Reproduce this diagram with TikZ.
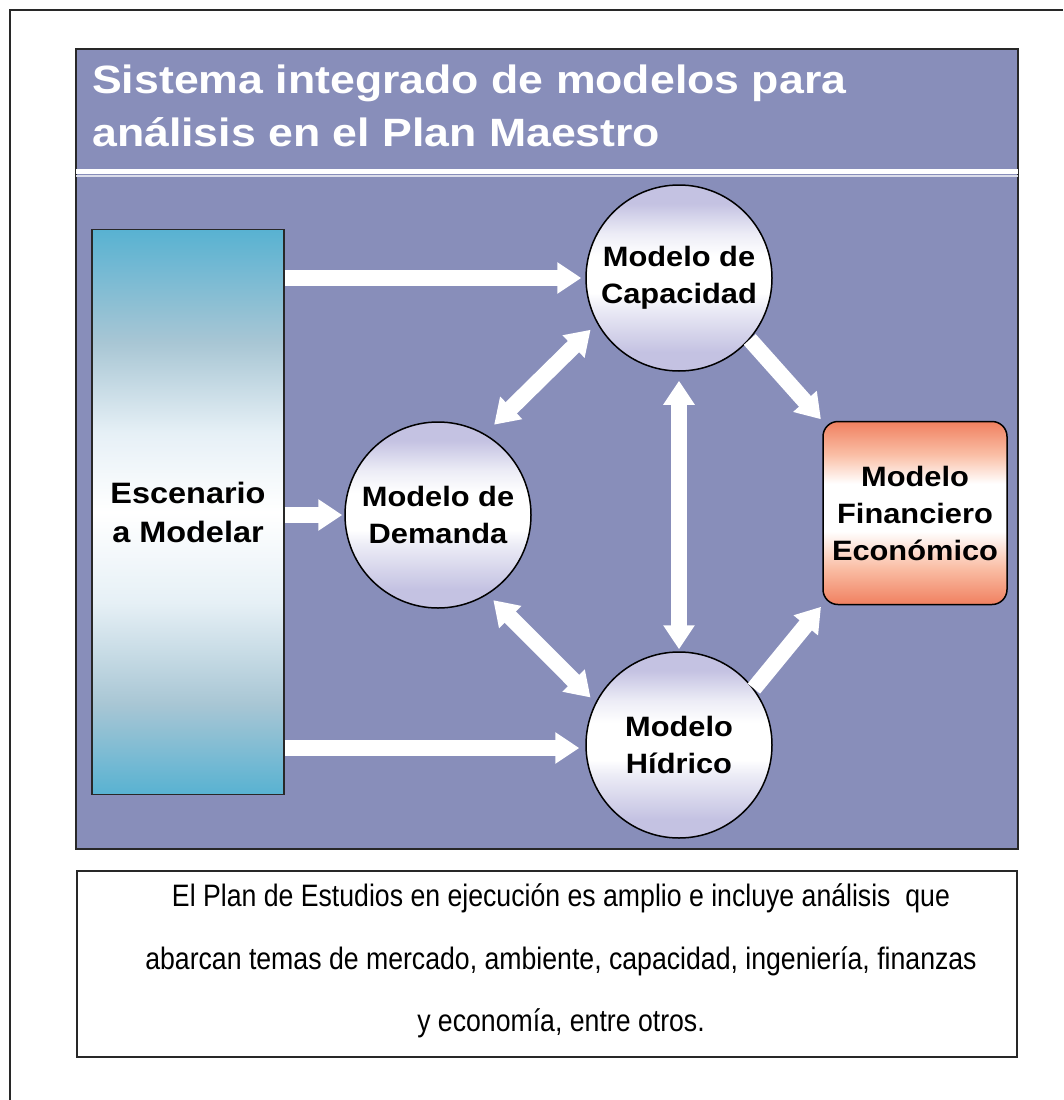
\documentclass[tikz,border=0pt]{standalone}
\usepackage{fontspec}
\setmainfont{Liberation Sans}
\newfontfamily\widefont[FakeStretch=1.1]{Liberation Sans}
\newfontfamily\titlefont[FakeStretch=1.13]{Liberation Sans}
\newfontfamily\notefont[FakeStretch=0.86]{Liberation Sans}
\usetikzlibrary{positioning,arrows.meta}

\definecolor{panelblue}{RGB}{136,142,186}
\definecolor{framegray}{RGB}{40,40,40}
\definecolor{escteal}{RGB}{88,178,210}
\definecolor{escgray}{RGB}{168,198,212}
\definecolor{escpale}{RGB}{230,240,246}
\definecolor{balllav}{RGB}{196,194,226}
\definecolor{ballpale}{RGB}{236,236,246}
\definecolor{finsalmon}{RGB}{240,128,96}
\definecolor{finpeach}{RGB}{250,190,165}

\pgfdeclareverticalshading{escshade}{100bp}{color(0bp)=(escteal); color(25bp)=(escteal); color(33bp)=(escgray); color(42bp)=(escpale); color(50bp)=(white); color(57bp)=(escpale); color(65bp)=(escgray); color(75bp)=(escteal); color(100bp)=(escteal)}
\pgfdeclareverticalshading{ballshade}{100bp}{color(0bp)=(balllav); color(30bp)=(balllav); color(42bp)=(ballpale); color(46bp)=(white); color(56bp)=(white); color(62bp)=(ballpale); color(70bp)=(balllav); color(100bp)=(balllav)}
\pgfdeclareverticalshading{finshade}{100bp}{color(0bp)=(finsalmon); color(25bp)=(finsalmon); color(35bp)=(finpeach); color(45bp)=(white); color(58bp)=(white); color(66bp)=(finpeach); color(75bp)=(finsalmon); color(100bp)=(finsalmon)}

\begin{document}
\begin{tikzpicture}[x=1pt, y=-1pt,
  ball/.style={circle, draw=black, line width=1.5pt, shading=ballshade, minimum size=186pt, inner sep=0pt, align=center, font=\widefont\bfseries\fontsize{28}{37}\selectfont},
  flow/.style={draw=white, line width=16pt, -{Triangle[length=24pt,width=30pt]}},
  flowboth/.style={flow, {Triangle[length=24pt,width=30pt]}-{Triangle[length=24pt,width=30pt]}}]
\useasboundingbox (0,0) rectangle (1063,1100);
% frame and panel
\draw[framegray, line width=2pt] (10,1100) -- (10,10) -- (1063,10);
\draw[fill=panelblue, draw=framegray, line width=2pt] (76,49) rectangle (1018,849);
\draw[white, line width=5pt] (76,171) -- (1018,171);
\draw[white!70!panelblue, line width=2pt] (76,176) -- (1018,176);
\node[anchor=north west, inner sep=0pt, text=white, align=left, font=\titlefont\bfseries\fontsize{39.5}{53}\selectfont] (title) at (92,65) {Sistema integrado de modelos para\\análisis en el Plan Maestro};
% models
\node[draw=framegray, line width=1.5pt, shading=escshade, minimum width=192pt, minimum height=565pt, inner sep=0pt, align=center, font=\widefont\bfseries\fontsize{29.5}{39}\selectfont] (esc) at (188,512) {Escenario\\a Modelar};
\node[ball] (cap) at (679,278) {Modelo de\\Capacidad};
\node[ball] (dem) at (438,515) {Modelo de\\Demanda};
\node[ball] (hid) at (679,745) {Modelo\\Hídrico};
\node[draw=black, line width=1.5pt, rounded corners=15pt, shading=finshade, minimum width=184pt, minimum height=183pt, inner sep=0pt, align=center, font=\widefont\bfseries\fontsize{28}{37}\selectfont] (fin) at (915,513) {Modelo\\Financiero\\Económico};
% arrows
\draw[flow, shorten >=4pt] (esc.east |- cap) -- (cap.west);
\draw[flow, shorten >=2pt] (esc.east |- dem) -- (dem.west);
\draw[flow, shorten >=6pt] (esc.east |- 0,748) -- (hid.west |- 0,748);
\draw[flowboth, shorten <=13pt, shorten >=9pt] (dem.60) -- (cap.209);
\draw[flowboth, shorten <=8pt, shorten >=7pt] (dem.-58) -- (hid.153);
\draw[flowboth, shorten <=9pt, shorten >=2pt] (cap.south) -- (hid.north);
\draw[flow, shorten >=2pt] (cap.-41) -- (fin.north west);
\draw[flow, shorten >=2pt] (hid.37) -- (fin.south west);
% note
\node[draw=framegray, line width=2pt, minimum width=940pt, minimum height=186pt] (note) at (547,964) {};
\node[inner sep=0pt, align=center, font=\notefont\fontsize{31}{62.5}\selectfont] (notetext) at (561,961) {El Plan de Estudios en ejecución es amplio e incluye análisis\ \ que\\abarcan temas de mercado, ambiente, capacidad, ingeniería, finanzas\\y economía, entre otros.};
\end{tikzpicture}
\end{document}
